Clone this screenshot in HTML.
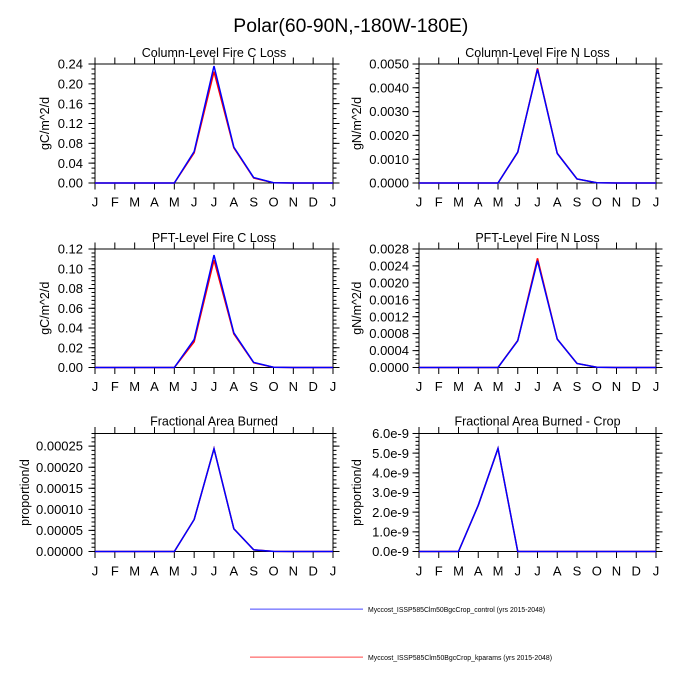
<!DOCTYPE html>
<html><head><meta charset="utf-8"><style>
html,body{margin:0;padding:0;background:#fff;}
svg{display:block;}
text{font-family:"Liberation Sans",Arial,sans-serif;fill:#000;}
.tl{font-size:13px;}
.ti{font-size:12.5px;}
.yt{font-size:12.5px;}
.d{fill:none;stroke-width:1.5;stroke-linejoin:miter;}
</style></head><body>
<svg width="700" height="700" viewBox="0 0 700 700" xmlns="http://www.w3.org/2000/svg">
<rect width="700" height="700" fill="#fff"/>
<text x="350.8" y="32" text-anchor="middle" font-size="19" textLength="235" lengthAdjust="spacingAndGlyphs">Polar(60-90N,-180W-180E)</text>

<!-- TL -->
<g transform="translate(95,64)">
<g stroke="#000" fill="none">
<line x1="-0.5" y1="-3.25" x2="238.5" y2="-3.25" stroke-width="6.5" stroke-dasharray="1 18.8333"/>
<line x1="-0.5" y1="122.25" x2="238.5" y2="122.25" stroke-width="6.5" stroke-dasharray="1 18.8333"/>
<line x1="-3.25" y1="119.5" x2="-3.25" y2="-0.5" stroke-width="6.5" stroke-dasharray="1 18.8333"/>
<line x1="-1.75" y1="119.5" x2="-1.75" y2="-0.5" stroke-width="3.5" stroke-dasharray="1 3.9583"/>
<line x1="241.25" y1="119.5" x2="241.25" y2="-0.5" stroke-width="6.5" stroke-dasharray="1 18.8333"/>
<line x1="239.75" y1="119.5" x2="239.75" y2="-0.5" stroke-width="3.5" stroke-dasharray="1 3.9583"/>
<rect x="0" y="0" width="238" height="119" stroke-width="1"/>
</g>
<polyline class="d" stroke="#ff0000" points="0,119 19.83,119 39.67,119 59.5,119 79.33,119 99.17,88.8 119,7.7 138.83,83.8 158.67,114 178.5,118.8 198.33,119 218.17,119 238,119"/>
<polyline class="d" stroke="#0000ff" points="0,119 19.83,119 39.67,119 59.5,119 79.33,119 99.17,87.5 119,2 138.83,83.1 158.67,113.55 178.5,118.75 198.33,119 218.17,119 238,119"/>
<text class="ti" x="119" y="-7" text-anchor="middle">Column-Level Fire C Loss</text>
<text class="yt" transform="translate(-46,59.5) rotate(-90)" text-anchor="middle">gC/m^2/d</text>
<g class="tl" text-anchor="end">
<text x="-12" y="123.6">0.00</text><text x="-12" y="103.77">0.04</text><text x="-12" y="83.93">0.08</text><text x="-12" y="64.1">0.12</text><text x="-12" y="44.27">0.16</text><text x="-12" y="24.43">0.20</text><text x="-12" y="4.6">0.24</text>
</g>
<g class="tl" text-anchor="middle">
<text x="0" y="142.5">J</text><text x="19.83" y="142.5">F</text><text x="39.67" y="142.5">M</text><text x="59.5" y="142.5">A</text><text x="79.33" y="142.5">M</text><text x="99.17" y="142.5">J</text><text x="119" y="142.5">J</text><text x="138.83" y="142.5">A</text><text x="158.67" y="142.5">S</text><text x="178.5" y="142.5">O</text><text x="198.33" y="142.5">N</text><text x="218.17" y="142.5">D</text><text x="238" y="142.5">J</text>
</g>
</g>

<!-- TR -->
<g transform="translate(419,64)">
<g stroke="#000" fill="none">
<line x1="-0.5" y1="-3.25" x2="237.5" y2="-3.25" stroke-width="6.5" stroke-dasharray="1 18.75"/>
<line x1="-0.5" y1="122.25" x2="237.5" y2="122.25" stroke-width="6.5" stroke-dasharray="1 18.75"/>
<line x1="-3.25" y1="119.5" x2="-3.25" y2="-0.5" stroke-width="6.5" stroke-dasharray="1 22.8"/>
<line x1="-1.75" y1="119.5" x2="-1.75" y2="-0.5" stroke-width="3.5" stroke-dasharray="1 3.76"/>
<line x1="240.25" y1="119.5" x2="240.25" y2="-0.5" stroke-width="6.5" stroke-dasharray="1 22.8"/>
<line x1="238.75" y1="119.5" x2="238.75" y2="-0.5" stroke-width="3.5" stroke-dasharray="1 3.76"/>
<rect x="0" y="0" width="237" height="119" stroke-width="1"/>
</g>
<polyline class="d" stroke="#ff0000" points="0,119 19.75,119 39.5,119 59.25,119 79,119 98.75,88.3 118.5,4.3 138.25,89.25 158,114.95 177.75,118.76 197.5,119 217.25,119 237,119"/>
<polyline class="d" stroke="#0000ff" points="0,119 19.75,119 39.5,119 59.25,119 79,119 98.75,88.06 118.5,5.24 138.25,89.5 158,114.95 177.75,118.76 197.5,119 217.25,119 237,119"/>
<text class="ti" x="118.5" y="-7" text-anchor="middle">Column-Level Fire N Loss</text>
<text class="yt" transform="translate(-58,59.5) rotate(-90)" text-anchor="middle">gN/m^2/d</text>
<g class="tl" text-anchor="end">
<text x="-10" y="123.6">0.0000</text><text x="-10" y="99.8">0.0010</text><text x="-10" y="76">0.0020</text><text x="-10" y="52.2">0.0030</text><text x="-10" y="28.4">0.0040</text><text x="-10" y="4.6">0.0050</text>
</g>
<g class="tl" text-anchor="middle">
<text x="0" y="142.5">J</text><text x="19.75" y="142.5">F</text><text x="39.5" y="142.5">M</text><text x="59.25" y="142.5">A</text><text x="79" y="142.5">M</text><text x="98.75" y="142.5">J</text><text x="118.5" y="142.5">J</text><text x="138.25" y="142.5">A</text><text x="158" y="142.5">S</text><text x="177.75" y="142.5">O</text><text x="197.5" y="142.5">N</text><text x="217.25" y="142.5">D</text><text x="237" y="142.5">J</text>
</g>
</g>

<!-- ML -->
<g transform="translate(95,249)">
<g stroke="#000" fill="none">
<line x1="-0.5" y1="-3.25" x2="238.5" y2="-3.25" stroke-width="6.5" stroke-dasharray="1 18.8333"/>
<line x1="-0.5" y1="121.75" x2="238.5" y2="121.75" stroke-width="6.5" stroke-dasharray="1 18.8333"/>
<line x1="-3.25" y1="119" x2="-3.25" y2="-0.5" stroke-width="6.5" stroke-dasharray="1 18.75"/>
<line x1="-1.75" y1="119" x2="-1.75" y2="-0.5" stroke-width="3.5" stroke-dasharray="1 2.95"/>
<line x1="241.25" y1="119" x2="241.25" y2="-0.5" stroke-width="6.5" stroke-dasharray="1 18.75"/>
<line x1="239.75" y1="119" x2="239.75" y2="-0.5" stroke-width="3.5" stroke-dasharray="1 2.95"/>
<rect x="0" y="0" width="238" height="118.5" stroke-width="1"/>
</g>
<polyline class="d" stroke="#ff0000" points="0,118.5 19.83,118.5 39.67,118.5 59.5,118.5 79.33,118.5 99.17,92.8 119,11.1 138.83,84.9 158.67,113.76 178.5,118.2 198.33,118.5 218.17,118.5 238,118.5"/>
<polyline class="d" stroke="#0000ff" points="0,118.5 19.83,118.5 39.67,118.5 59.5,118.5 79.33,118.5 99.17,90.45 119,6 138.83,83.84 158.67,113.46 178.5,118.2 198.33,118.5 218.17,118.5 238,118.5"/>
<text class="ti" x="119" y="-7" text-anchor="middle">PFT-Level Fire C Loss</text>
<text class="yt" transform="translate(-46,59.25) rotate(-90)" text-anchor="middle">gC/m^2/d</text>
<g class="tl" text-anchor="end">
<text x="-12" y="123.1">0.00</text><text x="-12" y="103.35">0.02</text><text x="-12" y="83.6">0.04</text><text x="-12" y="63.85">0.06</text><text x="-12" y="44.1">0.08</text><text x="-12" y="24.35">0.10</text><text x="-12" y="4.6">0.12</text>
</g>
<g class="tl" text-anchor="middle">
<text x="0" y="142">J</text><text x="19.83" y="142">F</text><text x="39.67" y="142">M</text><text x="59.5" y="142">A</text><text x="79.33" y="142">M</text><text x="99.17" y="142">J</text><text x="119" y="142">J</text><text x="138.83" y="142">A</text><text x="158.67" y="142">S</text><text x="178.5" y="142">O</text><text x="198.33" y="142">N</text><text x="218.17" y="142">D</text><text x="238" y="142">J</text>
</g>
</g>

<!-- MR -->
<g transform="translate(419,249)">
<g stroke="#000" fill="none">
<line x1="-0.5" y1="-3.25" x2="237.5" y2="-3.25" stroke-width="6.5" stroke-dasharray="1 18.75"/>
<line x1="-0.5" y1="121.75" x2="237.5" y2="121.75" stroke-width="6.5" stroke-dasharray="1 18.75"/>
<line x1="-3.25" y1="119" x2="-3.25" y2="-0.5" stroke-width="6.5" stroke-dasharray="1 15.9286"/>
<line x1="-1.75" y1="119" x2="-1.75" y2="-0.5" stroke-width="3.5" stroke-dasharray="1 3.2321"/>
<line x1="240.25" y1="119" x2="240.25" y2="-0.5" stroke-width="6.5" stroke-dasharray="1 15.9286"/>
<line x1="238.75" y1="119" x2="238.75" y2="-0.5" stroke-width="3.5" stroke-dasharray="1 3.2321"/>
<rect x="0" y="0" width="237" height="118.5" stroke-width="1"/>
</g>
<polyline class="d" stroke="#ff0000" points="0,118.5 19.75,118.5 39.5,118.5 59.25,118.5 79,118.5 98.75,91.4 118.5,9.31 138.25,90.14 158,114.48 177.75,118.29 197.5,118.5 217.25,118.5 237,118.5"/>
<polyline class="d" stroke="#0000ff" points="0,118.5 19.75,118.5 39.5,118.5 59.25,118.5 79,118.5 98.75,91.84 118.5,11.85 138.25,90.14 158,114.48 177.75,118.29 197.5,118.5 217.25,118.5 237,118.5"/>
<text class="ti" x="118.5" y="-7" text-anchor="middle">PFT-Level Fire N Loss</text>
<text class="yt" transform="translate(-58,59.25) rotate(-90)" text-anchor="middle">gN/m^2/d</text>
<g class="tl" text-anchor="end">
<text x="-10" y="123.1">0.0000</text><text x="-10" y="106.17">0.0004</text><text x="-10" y="89.24">0.0008</text><text x="-10" y="72.31">0.0012</text><text x="-10" y="55.39">0.0016</text><text x="-10" y="38.46">0.0020</text><text x="-10" y="21.53">0.0024</text><text x="-10" y="4.6">0.0028</text>
</g>
<g class="tl" text-anchor="middle">
<text x="0" y="142">J</text><text x="19.75" y="142">F</text><text x="39.5" y="142">M</text><text x="59.25" y="142">A</text><text x="79" y="142">M</text><text x="98.75" y="142">J</text><text x="118.5" y="142">J</text><text x="138.25" y="142">A</text><text x="158" y="142">S</text><text x="177.75" y="142">O</text><text x="197.5" y="142">N</text><text x="217.25" y="142">D</text><text x="237" y="142">J</text>
</g>
</g>

<!-- BL -->
<g transform="translate(95,433.5)">
<g stroke="#000" fill="none">
<line x1="-0.5" y1="-3.25" x2="238.5" y2="-3.25" stroke-width="6.5" stroke-dasharray="1 18.8333"/>
<line x1="-0.5" y1="121.25" x2="238.5" y2="121.25" stroke-width="6.5" stroke-dasharray="1 18.8333"/>
<line x1="-3.25" y1="118.5" x2="-3.25" y2="-0.5" stroke-width="6.5" stroke-dasharray="1 20.0714"/>
<line x1="-1.75" y1="118.5" x2="-1.75" y2="-0.5" stroke-width="3.5" stroke-dasharray="1 3.2143"/>
<line x1="241.25" y1="118.5" x2="241.25" y2="-0.5" stroke-width="6.5" stroke-dasharray="1 20.0714"/>
<line x1="239.75" y1="118.5" x2="239.75" y2="-0.5" stroke-width="3.5" stroke-dasharray="1 3.2143"/>
<rect x="0" y="0" width="238" height="118" stroke-width="1"/>
</g>
<polyline class="d" stroke="#ff0000" points="0,118 19.83,118 39.67,118 59.5,118 79.33,118 99.17,85.97 119,15.17 138.83,95.24 158.67,116.31 178.5,117.83 198.33,118 218.17,118 238,118"/>
<polyline class="d" stroke="#0000ff" points="0,118 19.83,118 39.67,118 59.5,118 79.33,118 99.17,85.97 119,15.17 138.83,95.24 158.67,116.31 178.5,117.83 198.33,118 218.17,118 238,118"/>
<text class="ti" x="119" y="-8" text-anchor="middle">Fractional Area Burned</text>
<text class="yt" transform="translate(-66,59) rotate(-90)" text-anchor="middle">proportion/d</text>
<g class="tl" text-anchor="end">
<text x="-12" y="122.6">0.00000</text><text x="-12" y="101.53">0.00005</text><text x="-12" y="80.46">0.00010</text><text x="-12" y="59.39">0.00015</text><text x="-12" y="38.31">0.00020</text><text x="-12" y="17.24">0.00025</text>
</g>
<g class="tl" text-anchor="middle">
<text x="0" y="142">J</text><text x="19.83" y="142">F</text><text x="39.67" y="142">M</text><text x="59.5" y="142">A</text><text x="79.33" y="142">M</text><text x="99.17" y="142">J</text><text x="119" y="142">J</text><text x="138.83" y="142">A</text><text x="158.67" y="142">S</text><text x="178.5" y="142">O</text><text x="198.33" y="142">N</text><text x="218.17" y="142">D</text><text x="238" y="142">J</text>
</g>
</g>

<!-- BR -->
<g transform="translate(419,433.5)">
<g stroke="#000" fill="none">
<line x1="-0.5" y1="-3.25" x2="237.5" y2="-3.25" stroke-width="6.5" stroke-dasharray="1 18.75"/>
<line x1="-0.5" y1="121.25" x2="237.5" y2="121.25" stroke-width="6.5" stroke-dasharray="1 18.75"/>
<line x1="-3.25" y1="118.5" x2="-3.25" y2="-0.5" stroke-width="6.5" stroke-dasharray="1 18.6667"/>
<line x1="-1.75" y1="118.5" x2="-1.75" y2="-0.5" stroke-width="3.5" stroke-dasharray="1 2.9333"/>
<line x1="240.25" y1="118.5" x2="240.25" y2="-0.5" stroke-width="6.5" stroke-dasharray="1 18.6667"/>
<line x1="238.75" y1="118.5" x2="238.75" y2="-0.5" stroke-width="3.5" stroke-dasharray="1 2.9333"/>
<rect x="0" y="0" width="237" height="118" stroke-width="1"/>
</g>
<polyline class="d" stroke="#ff0000" points="0,118 19.75,118 39.5,118 59.25,71.8 79,14.95 98.75,118 118.5,118 138.25,118 158,118 177.75,118 197.5,118 217.25,118 237,118"/>
<polyline class="d" stroke="#0000ff" points="0,118 19.75,118 39.5,118 59.25,71.8 79,14.95 98.75,118 118.5,118 138.25,118 158,118 177.75,118 197.5,118 217.25,118 237,118"/>
<text class="ti" x="118.5" y="-8" text-anchor="middle">Fractional Area Burned - Crop</text>
<text class="yt" transform="translate(-58,59) rotate(-90)" text-anchor="middle">proportion/d</text>
<g class="tl" text-anchor="end">
<text x="-10" y="122.6">0.0e-9</text><text x="-10" y="102.93">1.0e-9</text><text x="-10" y="83.27">2.0e-9</text><text x="-10" y="63.6">3.0e-9</text><text x="-10" y="43.93">4.0e-9</text><text x="-10" y="24.27">5.0e-9</text><text x="-10" y="4.6">6.0e-9</text>
</g>
<g class="tl" text-anchor="middle">
<text x="0" y="142">J</text><text x="19.75" y="142">F</text><text x="39.5" y="142">M</text><text x="59.25" y="142">A</text><text x="79" y="142">M</text><text x="98.75" y="142">J</text><text x="118.5" y="142">J</text><text x="138.25" y="142">A</text><text x="158" y="142">S</text><text x="177.75" y="142">O</text><text x="197.5" y="142">N</text><text x="217.25" y="142">D</text><text x="237" y="142">J</text>
</g>
</g>

<!-- Legend -->
<rect x="250" y="608.5" width="113" height="1.3" fill="#7070ff"/>
<text x="368" y="612" font-size="7" textLength="177" lengthAdjust="spacingAndGlyphs">Myccost_ISSP585Clm50BgcCrop_control (yrs 2015-2048)</text>
<rect x="250" y="656.5" width="113" height="1.3" fill="#ff7070"/>
<text x="368" y="660" font-size="7" textLength="184" lengthAdjust="spacingAndGlyphs">Myccost_ISSP585Clm50BgcCrop_kparams (yrs 2015-2048)</text>
</svg>
</body></html>
